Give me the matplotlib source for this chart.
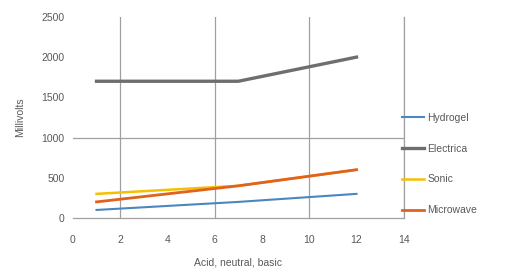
import matplotlib
matplotlib.use("Agg")
import matplotlib.pyplot as plt
from matplotlib.ticker import FixedLocator

ph = [1, 7, 12]
series_names = ["Hydrogel", "Electrica", "Sonic", "Microwave"]
hydrogel = [100, 200, 300]
electrica = [1700, 1700, 2000]
sonic = [300, 400, 600]
microwave = [200, 400, 600]

x_ticks = [0, 2, 4, 6, 8, 10, 12, 14]
y_ticks = [0, 500, 1000, 1500, 2000, 2500]
x_grid = [2, 6, 10, 14]
y_grid = [1000]

plt.rcParams['font.family'] = ['Liberation Sans', 'DejaVu Sans']
txt = '#595959'
gcol = '#a0a0a0'

fig = plt.figure(figsize=(5.32, 2.77), dpi=100)
ax = fig.add_axes([0.137, 0.213, 0.622, 0.726])

ax.plot(ph, hydrogel, color='#4a86c0', lw=1.5, label=series_names[0], zorder=3)
ax.plot(ph, electrica, color='#6e6e6e', lw=2.4, label=series_names[1], zorder=3)
ax.plot(ph, sonic, color='#f5c000', lw=1.8, label=series_names[2], zorder=3)
ax.plot(ph, microwave, color='#e0621e', lw=2.0, label=series_names[3], zorder=4)

ax.set_xlim(0, 14)
ax.set_ylim(0, 2500)
ax.set_xticks(x_ticks)
ax.set_yticks(y_ticks)
ax.xaxis.remove_overlapping_locs = False
ax.yaxis.remove_overlapping_locs = False
ax.xaxis.set_minor_locator(FixedLocator(x_grid))
ax.yaxis.set_minor_locator(FixedLocator(y_grid))
ax.grid(which='minor', color=gcol, lw=0.9)
ax.grid(which='major', visible=False)
ax.tick_params(which='both', length=0, labelsize=7.5, labelcolor=txt)
ax.tick_params(axis='x', pad=12)
ax.tick_params(axis='y', pad=6)
for s in ['top', 'left']:
    ax.spines[s].set_visible(False)
for s in ['bottom', 'right']:
    ax.spines[s].set_color(gcol)
    ax.spines[s].set_linewidth(0.9)

ax.set_xlabel("Acid, neutral, basic", fontsize=7.5, color=txt, labelpad=9)
ax.set_ylabel("Millivolts", fontsize=7.5, color=txt, labelpad=12)

leg = ax.legend(loc='upper left', bbox_to_anchor=(0.965, 0.57), frameon=False,
                fontsize=7.5, labelspacing=2.0, handlelength=2.2, handletextpad=0.3)
for t in leg.get_texts():
    t.set_color(txt)

fig.savefig("out.png", dpi=100)
